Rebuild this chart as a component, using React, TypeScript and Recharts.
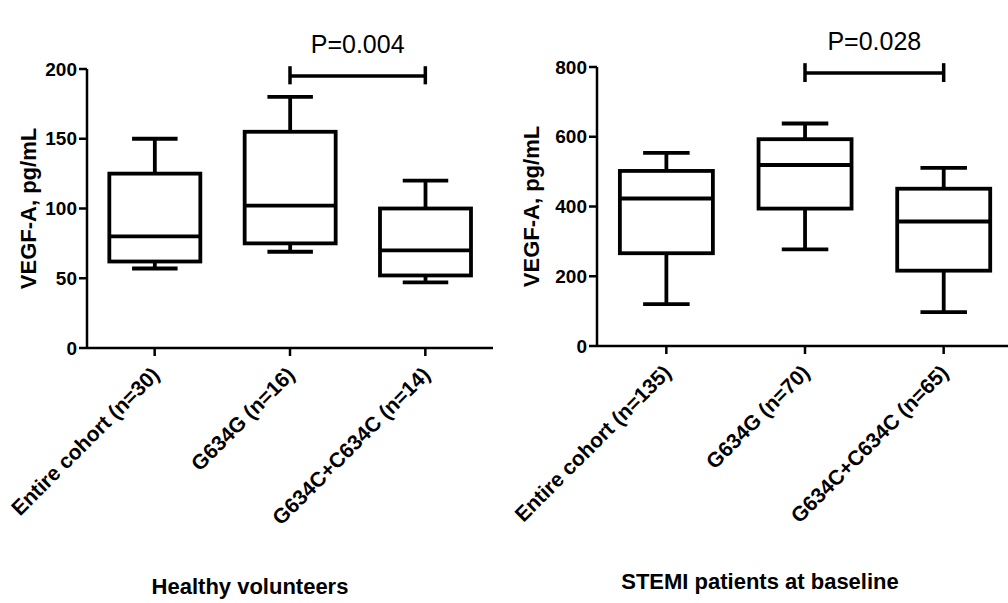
import React from "react";
import { BarChart, Bar, XAxis, YAxis, ReferenceLine } from "recharts";

const FONT = '"Liberation Sans", Arial, sans-serif';

// Healthy volunteers
const hvCategories = ["Entire cohort (n=30)", "G634G (n=16)", "G634C+C634C (n=14)"];
const hvMin = [57, 69, 47];
const hvQ1 = [62, 75, 52];
const hvMedian = [80, 102, 70];
const hvQ3 = [125, 155, 100];
const hvMax = [150, 180, 120];
const hvTicks = [0, 50, 100, 150, 200];

// STEMI patients at baseline
const stCategories = ["Entire cohort (n=135)", "G634G (n=70)", "G634C+C634C (n=65)"];
const stMin = [120, 277, 97];
const stQ1 = [266, 394, 216];
const stMedian = [423, 519, 357];
const stQ3 = [502, 593, 451];
const stMax = [554, 638, 511];
const stTicks = [0, 200, 400, 600, 800];

const buildRows = (cats: string[], mn: number[], q1: number[], med: number[], q3: number[], mx: number[]) =>
  cats.map((name, i) => ({ name, range: [mn[i], mx[i]], q1: q1[i], median: med[i], q3: q3[i] }));

const BoxShape = (props: any) => {
  const { x, y, width, height, payload } = props;
  const [lo, hi] = payload.range;
  const top = Math.min(y, y + height);
  const bottom = Math.max(y, y + height);
  const toPx = (v: number) => bottom - ((v - lo) / (hi - lo)) * (bottom - top);
  const cx = x + width / 2;
  const cap = width / 4;
  const yQ1 = toPx(payload.q1);
  const yQ3 = toPx(payload.q3);
  const yMed = toPx(payload.median);
  return (
    <g stroke="#000" strokeWidth={3.8} fill="none">
      <line x1={cx} x2={cx} y1={top} y2={yQ3} />
      <line x1={cx - cap} x2={cx + cap} y1={top} y2={top} />
      <line x1={cx} x2={cx} y1={yQ1} y2={bottom} />
      <line x1={cx - cap} x2={cx + cap} y1={bottom} y2={bottom} />
      <rect x={x} y={yQ3} width={width} height={yQ1 - yQ3} fill="#fff" />
      <line x1={x} x2={x + width} y1={yMed} y2={yMed} />
    </g>
  );
};

const AngledTick = (props: any) => {
  const { x, y, payload } = props;
  return (
    <g transform={`translate(${x + 6},${y + 18})`}>
      <text
        x={0}
        y={0}
        textAnchor="end"
        transform="rotate(-45)"
        fontFamily={FONT}
        fontWeight="bold"
        fontSize={21}
        fill="#000"
      >
        {payload.value}
      </text>
    </g>
  );
};

type PanelProps = {
  rows: any[];
  cats: string[];
  ticks: number[];
  width: number;
  top: number;
  yWidth: number;
  xHeight: number;
  labelOffset: number;
  bracketY: number;
  capLo: number;
  capHi: number;
  pText: string;
};

const Panel = (p: PanelProps) => {
  const axisStyle = { stroke: "#000", strokeWidth: 2.5 };
  return (
    <BarChart
      width={p.width}
      height={603}
      data={p.rows}
      margin={{ top: p.top, right: 7, bottom: 0, left: 0 }}
      barCategoryGap="16.5%"
    >
      <XAxis
        dataKey="name"
        interval={0}
        axisLine={axisStyle}
        tickLine={axisStyle}
        tickSize={8}
        height={p.xHeight}
        tick={<AngledTick />}
      />
      <YAxis
        domain={[p.ticks[0], p.ticks[p.ticks.length - 1]]}
        ticks={p.ticks}
        width={p.yWidth}
        axisLine={axisStyle}
        tickLine={axisStyle}
        tickSize={8}
        tickMargin={2}
        tick={{ fill: "#000", fontSize: 19, fontWeight: "bold", fontFamily: FONT }}
        label={{
          value: "VEGF-A, pg/mL",
          angle: -90,
          position: "insideLeft",
          offset: p.labelOffset,
          style: { textAnchor: "middle", fill: "#000", fontSize: 22, fontWeight: "bold", fontFamily: FONT },
        }}
      />
      <Bar dataKey="range" shape={<BoxShape />} isAnimationActive={false} />
      <ReferenceLine
        segment={[
          { x: p.cats[1], y: p.bracketY },
          { x: p.cats[2], y: p.bracketY },
        ]}
        stroke="#000"
        strokeWidth={3.5}
        ifOverflow="visible"
        label={{ value: p.pText, position: "top", offset: 23, fill: "#000", fontSize: 25, fontFamily: FONT }}
      />
      <ReferenceLine
        segment={[
          { x: p.cats[1], y: p.capLo },
          { x: p.cats[1], y: p.capHi },
        ]}
        stroke="#000"
        strokeWidth={3.5}
        ifOverflow="visible"
      />
      <ReferenceLine
        segment={[
          { x: p.cats[2], y: p.capLo },
          { x: p.cats[2], y: p.capHi },
        ]}
        stroke="#000"
        strokeWidth={3.5}
        ifOverflow="visible"
      />
    </BarChart>
  );
};

const titleStyle: React.CSSProperties = {
  position: "absolute",
  fontFamily: FONT,
  fontWeight: "bold",
  fontSize: 22,
  lineHeight: "22px",
  textAlign: "center",
  color: "#000",
};

export default function App() {
  const hvRows = buildRows(hvCategories, hvMin, hvQ1, hvMedian, hvQ3, hvMax);
  const stRows = buildRows(stCategories, stMin, stQ1, stMedian, stQ3, stMax);
  return (
    <div style={{ position: "absolute", left: 0, top: 0, width: 1008, height: 603, overflow: "hidden", background: "#fff" }}>
      <div style={{ position: "absolute", left: 0, top: 0 }}>
        <Panel
          rows={hvRows}
          cats={hvCategories}
          ticks={hvTicks}
          width={500}
          top={69}
          yWidth={87}
          xHeight={255}
          labelOffset={28}
          bracketY={195}
          capLo={189}
          capHi={202}
          pText="P=0.004"
        />
      </div>
      <div style={{ position: "absolute", left: 500, top: 0 }}>
        <Panel
          rows={stRows}
          cats={stCategories}
          ticks={stTicks}
          width={520}
          top={67}
          yWidth={97}
          xHeight={257}
          labelOffset={31}
          bracketY={783}
          capLo={757}
          capHi={811}
          pText="P=0.028"
        />
      </div>
      <div style={{ ...titleStyle, left: 100, top: 576, width: 300 }}>Healthy volunteers</div>
      <div style={{ ...titleStyle, left: 560, top: 571, width: 400 }}>STEMI patients at baseline</div>
    </div>
  );
}
